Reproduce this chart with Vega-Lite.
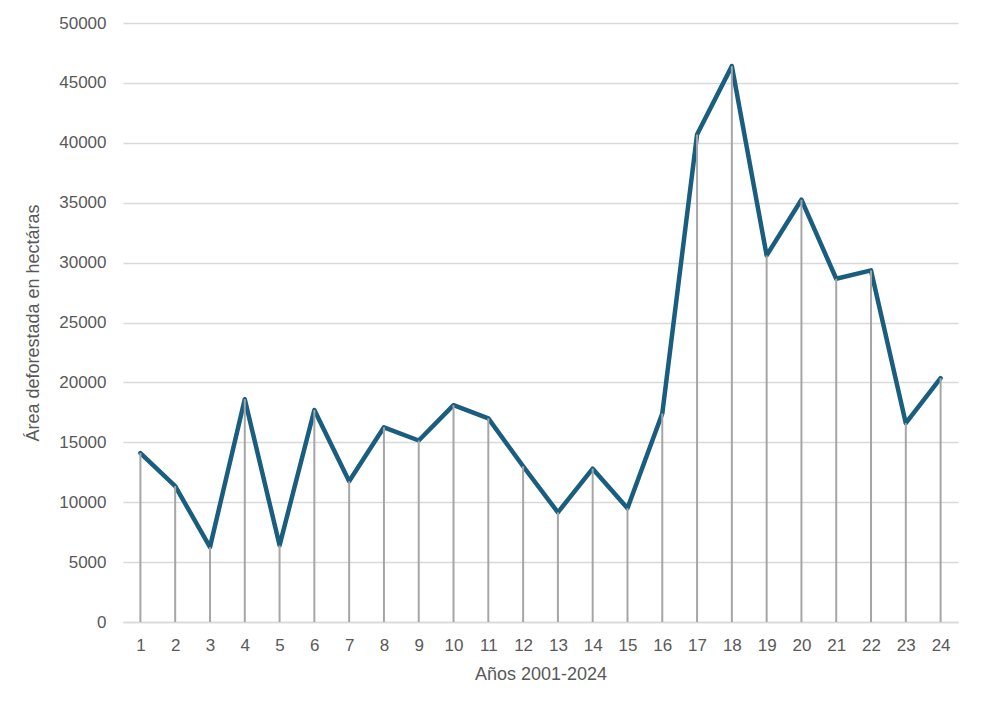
{
  "$schema": "https://vega.github.io/schema/vega-lite/v6.json",
  "width": 835,
  "height": 599,
  "autosize": {"type": "none"},
  "padding": {"left": 123, "top": 23, "right": 24, "bottom": 93},
  "background": "white",
  "config": {
    "view": {"stroke": null},
    "font": "Liberation Sans",
    "axis": {"labelFont": "Liberation Sans", "titleFont": "Liberation Sans", "labelColor": "#595959", "titleColor": "#595959", "labelFontSize": 17, "titleFontSize": 18, "titleFontWeight": "normal"}
  },
  "data": {
    "values": [
      {"anio": 1, "area": 14100},
      {"anio": 2, "area": 11350},
      {"anio": 3, "area": 6250},
      {"anio": 4, "area": 18600},
      {"anio": 5, "area": 6400},
      {"anio": 6, "area": 17700},
      {"anio": 7, "area": 11750},
      {"anio": 8, "area": 16250},
      {"anio": 9, "area": 15150},
      {"anio": 10, "area": 18100},
      {"anio": 11, "area": 17000},
      {"anio": 12, "area": 13000},
      {"anio": 13, "area": 9150},
      {"anio": 14, "area": 12800},
      {"anio": 15, "area": 9500},
      {"anio": 16, "area": 17400},
      {"anio": 17, "area": 40700},
      {"anio": 18, "area": 46400},
      {"anio": 19, "area": 30600},
      {"anio": 20, "area": 35250},
      {"anio": 21, "area": 28650},
      {"anio": 22, "area": 29350},
      {"anio": 23, "area": 16600},
      {"anio": 24, "area": 20350}
    ]
  },
  "encoding": {
    "x": {
      "field": "anio",
      "type": "ordinal",
      "scale": {"type": "point", "padding": 0.5},
      "axis": {"title": "Años 2001-2024", "labelAngle": 0, "ticks": false, "domain": true, "domainColor": "#D9D9D9", "domainWidth": 1.5, "labelPadding": 15, "titlePadding": 12, "grid": false}
    },
    "y": {
      "field": "area",
      "type": "quantitative",
      "scale": {"domain": [0, 50000], "nice": false},
      "axis": {"title": "Área deforestada en hectáras", "values": [0,5000,10000,15000,20000,25000,30000,35000,40000,45000,50000], "format": "d", "ticks": false, "domain": false, "gridColor": "#D9D9D9", "gridWidth": 1.5, "labelPadding": 17, "titlePadding": 16}
    }
  },
  "layer": [
    {
      "mark": {"type": "line", "color": "#195E7F", "strokeWidth": 4.5, "strokeJoin": "round", "strokeCap": "round"}
    },
    {
      "mark": {"type": "rule", "color": "#A6A6A6", "strokeWidth": 2},
      "encoding": {"y2": {"datum": 0}}
    }
  ]
}
